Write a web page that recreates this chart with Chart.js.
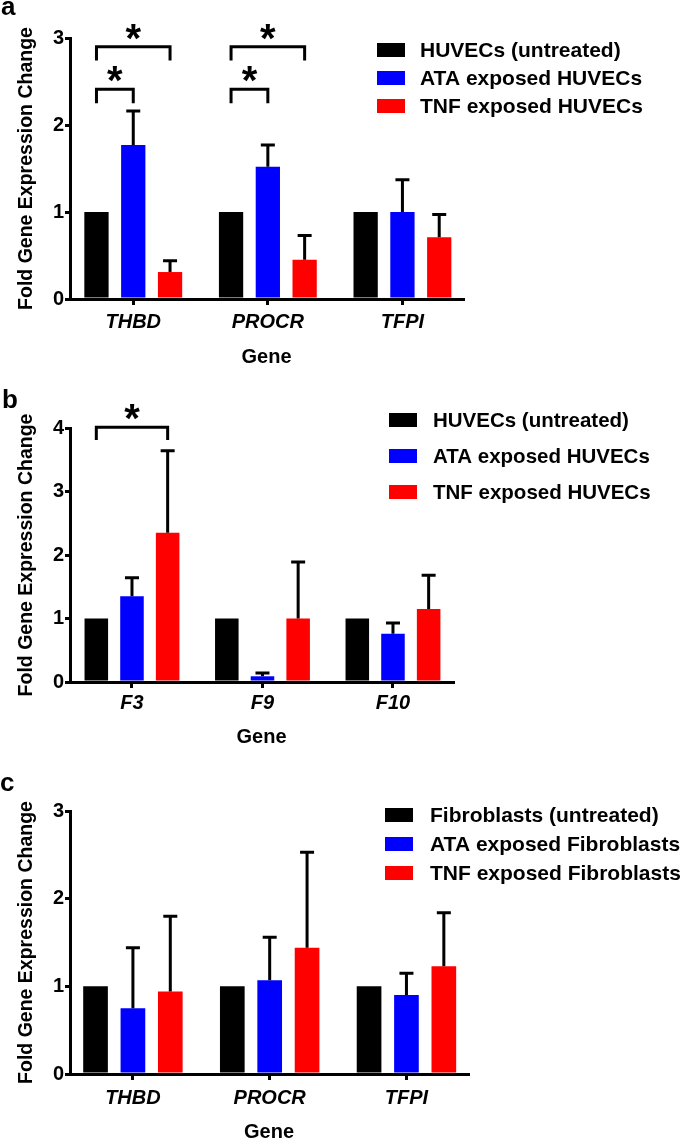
<!DOCTYPE html>
<html>
<head>
<meta charset="utf-8">
<script src="https://cdn.jsdelivr.net/npm/chart.js@4"></script>
<style>
  html, body { margin: 0; padding: 0; background: #fff; }
  canvas.panel { position: absolute; left: 0; }
</style>
</head>
<body>
<canvas id="chart-a" class="panel" style="top:0px" width="685" height="370"></canvas>
<canvas id="chart-b" class="panel" style="top:370px" width="685" height="400"></canvas>
<canvas id="chart-c" class="panel" style="top:770px" width="685" height="372"></canvas>
<script>
// ---- panel a: anticoagulant genes, HUVECs
var genesA = ['THBD', 'PROCR', 'TFPI'];
var labelsA = ['HUVECs (untreated)', 'ATA exposed HUVECs', 'TNF exposed HUVECs'];
var untreatedA = [1, 1, 1];
var ataA = [1.77, 1.52, 1.0];
var ataSdA = [0.39, 0.25, 0.37];
var tnfA = [0.31, 0.45, 0.71];
var tnfSdA = [0.13, 0.28, 0.26];
var ticksA = [0, 1, 2, 3];
// significance brackets (group, from bar, to bar, line level, end level)
var bracketsA = [
  { group: 0, from: 0, to: 2, y: 2.9, tip: 2.74 },
  { group: 0, from: 0, to: 1, y: 2.41, tip: 2.25 },
  { group: 1, from: 0, to: 2, y: 2.9, tip: 2.74 },
  { group: 1, from: 0, to: 1, y: 2.41, tip: 2.25 }
];

// ---- panel b: procoagulant genes, HUVECs
var genesB = ['F3', 'F9', 'F10'];
var labelsB = ['HUVECs (untreated)', 'ATA exposed HUVECs', 'TNF exposed HUVECs'];
var untreatedB = [1, 1, 1];
var ataB = [1.35, 0.09, 0.76];
var ataSdB = [0.29, 0.05, 0.17];
var tnfB = [2.35, 1.0, 1.15];
var tnfSdB = [1.29, 0.89, 0.53];
var ticksB = [0, 1, 2, 3, 4];
var bracketsB = [
  { group: 0, from: 0, to: 2, y: 4.01, tip: 3.81 }
];

// ---- panel c: anticoagulant genes, fibroblasts
var genesC = ['THBD', 'PROCR', 'TFPI'];
var labelsC = ['Fibroblasts (untreated)', 'ATA exposed Fibroblasts', 'TNF exposed Fibroblasts'];
var untreatedC = [1, 1, 1];
var ataC = [0.75, 1.07, 0.9];
var ataSdC = [0.69, 0.49, 0.25];
var tnfC = [0.94, 1.44, 1.23];
var tnfSdC = [0.86, 1.09, 0.61];
var ticksC = [0, 1, 2, 3];
var bracketsC = [];

var FONT = '"Liberation Sans", Arial, sans-serif';
var colors = ['#000000', '#0000ff', '#ff0000'];

Chart.defaults.font.family = FONT;
Chart.defaults.color = '#000';

// SD bars, upward only
var errorBars = {
  id: 'errorBars',
  afterDatasetsDraw: function (chart) {
    var ctx = chart.ctx;
    var yScale = chart.scales.y;
    ctx.save();
    ctx.strokeStyle = '#000';
    ctx.lineWidth = 3;
    chart.data.datasets.forEach(function (ds, di) {
      if (!ds.sd) return;
      chart.getDatasetMeta(di).data.forEach(function (bar, i) {
        var top = yScale.getPixelForValue(ds.data[i] + ds.sd[i]);
        ctx.beginPath();
        ctx.moveTo(bar.x, bar.y);
        ctx.lineTo(bar.x, top);
        ctx.moveTo(bar.x - 7, top);
        ctx.lineTo(bar.x + 7, top);
        ctx.stroke();
      });
    });
    ctx.restore();
  }
};

var brackets = {
  id: 'brackets',
  afterDraw: function (chart, args, opts) {
    var list = opts.list || [];
    var ctx = chart.ctx;
    var yScale = chart.scales.y;
    ctx.save();
    ctx.lineWidth = 3;
    ctx.strokeStyle = '#000';
    ctx.fillStyle = '#000';
    ctx.font = 'bold 40px ' + FONT;
    ctx.textAlign = 'center';
    ctx.textBaseline = 'alphabetic';
    list.forEach(function (b) {
      var x1 = chart.getDatasetMeta(b.from).data[b.group].x;
      var x2 = chart.getDatasetMeta(b.to).data[b.group].x;
      var yl = yScale.getPixelForValue(b.y);
      var yt = yScale.getPixelForValue(b.tip);
      ctx.beginPath();
      ctx.moveTo(x1, yt);
      ctx.lineTo(x1, yl);
      ctx.lineTo(x2, yl);
      ctx.lineTo(x2, yt);
      ctx.stroke();
      ctx.fillText('*', (x1 + x2) / 2, yl + 5);
    });
    ctx.restore();
  }
};

// legend sits over the plot area on the right, plus the panel letter
var sideLegend = {
  id: 'sideLegend',
  afterDraw: function (chart, args, opts) {
    var ctx = chart.ctx;
    ctx.save();
    ctx.font = 'bold ' + opts.size + 'px ' + FONT;
    ctx.textAlign = 'left';
    ctx.textBaseline = 'middle';
    chart.data.datasets.forEach(function (ds, i) {
      var cy = opts.y + i * opts.gap;
      ctx.fillStyle = ds.backgroundColor;
      ctx.fillRect(opts.x, cy - 7, 28, 14);
      ctx.fillStyle = '#000';
      ctx.fillText(ds.label, opts.textX, cy + 1);
    });
    ctx.font = 'bold 26px ' + FONT;
    ctx.textBaseline = 'alphabetic';
    ctx.fillText(opts.letter, opts.letterX, opts.letterY);
    ctx.restore();
  }
};

function makeChart(id, p) {
  var ctx = document.getElementById(id).getContext('2d');
  var series = [p.untreated, p.ata, p.tnf];
  var sds = [null, p.ataSd, p.tnfSd];

  return new Chart(ctx, {
    type: 'bar',
    data: {
      labels: p.genes.map(function (g, i) { return i; }),
      datasets: series.map(function (values, i) {
        return {
          label: p.labels[i],
          data: values,
          sd: sds[i],
          backgroundColor: colors[i],
          borderWidth: 0,
          categoryPercentage: 0.82,
          barPercentage: 0.66
        };
      })
    },
    options: {
      responsive: false,
      animation: false,
      layout: { padding: { top: p.top, right: p.right, bottom: 0, left: 0 } },
      plugins: {
        legend: { display: false },
        tooltip: { enabled: false },
        brackets: { list: p.brackets },
        sideLegend: p.legend
      },
      scales: {
        x: {
          type: 'linear',
          offset: false,
          min: p.xMin,
          max: p.xMax,
          afterBuildTicks: function (scale) {
            scale.ticks = p.genes.map(function (g, i) { return { value: i }; });
          },
          afterFit: function (scale) { scale.height = p.xHeight; },
          ticks: {
            callback: function (value) { return p.genes[value]; },
            font: { size: 20, weight: 'bold', style: 'italic' },
            padding: p.tickPad,
            maxRotation: 0,
            autoSkip: false
          },
          grid: { display: true, offset: false, drawOnChartArea: false, drawTicks: true, tickLength: 6, color: '#000', lineWidth: 3 },
          border: { display: true, color: '#000', width: 3 },
          title: {
            display: true,
            text: 'Gene',
            font: { size: 20, weight: 'bold', lineHeight: 1 },
            padding: { top: 0, bottom: p.genePad }
          }
        },
        y: {
          min: 0,
          max: p.yTicks[p.yTicks.length - 1],
          afterBuildTicks: function (scale) {
            scale.ticks = p.yTicks.map(function (v) { return { value: v }; });
          },
          afterFit: function (scale) { scale.width = 70; },
          ticks: {
            font: { size: 20, weight: 'bold' },
            padding: 1
          },
          grid: { display: true, drawOnChartArea: false, drawTicks: true, tickLength: 5, color: '#000', lineWidth: 3 },
          border: { display: true, color: '#000', width: 3 },
          title: {
            display: true,
            text: 'Fold Gene Expression Change',
            font: { size: 19.5, weight: 'bold', lineHeight: 1 },
            padding: { top: 17, bottom: 0 }
          }
        }
      }
    },
    plugins: [errorBars, brackets, sideLegend]
  });
}

makeChart('chart-a', {
  genes: genesA, labels: labelsA,
  untreated: untreatedA, ata: ataA, ataSd: ataSdA, tnf: tnfA, tnfSd: tnfSdA,
  yTicks: ticksA, brackets: bracketsA,
  top: 38, right: 222, xHeight: 71, xMin: -0.47, xMax: 2.45, tickPad: 5, genePad: 3,
  legend: { x: 377, y: 50, gap: 28, textX: 420, size: 21, letter: 'a', letterX: 1, letterY: 15 }
});

makeChart('chart-b', {
  genes: genesB, labels: labelsB,
  untreated: untreatedB, ata: ataB, ataSd: ataSdB, tnf: tnfB, tnfSd: tnfSdB,
  yTicks: ticksB, brackets: bracketsB,
  top: 58, right: 232, xHeight: 88, xMin: -0.475, xMax: 2.46, tickPad: 3, genePad: 23,
  legend: { x: 389, y: 50, gap: 36, textX: 433, size: 20.5, letter: 'b', letterX: 2, letterY: 38 }
});

makeChart('chart-c', {
  genes: genesC, labels: labelsC,
  untreated: untreatedC, ata: ataC, ataSd: ataSdC, tnf: tnfC, tnfSd: tnfSdC,
  yTicks: ticksC, brackets: bracketsC,
  top: 41, right: 217, xHeight: 68, xMin: -0.46, xMax: 2.45, tickPad: 6, genePad: 0,
  legend: { x: 385, y: 45, gap: 29, textX: 430, size: 21, letter: 'c', letterX: 0, letterY: 21 }
});
</script>
</body>
</html>
